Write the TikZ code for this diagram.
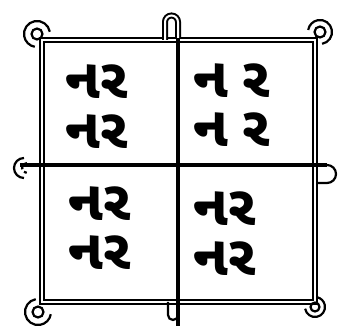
\documentclass[tikz,border=0pt]{standalone}
\usepackage{fontspec}
\newfontfamily\gujfont[Script=Gujarati]{Noto Sans Gujarati UI}
\tikzset{
  rim/.style={double, double distance=2pt, line width=2pt},
  bar/.style={line width=4.5pt},
  curl/.style={line width=2.2pt},
  cell/.style={font=\gujfont\bfseries\fontsize{56}{56}\selectfont, inner sep=0pt, text height=24pt, text depth=2pt}
}
\begin{document}
\begin{tikzpicture}[x=1pt,y=1pt]
\useasboundingbox (0,0) rectangle (338,328);
% frame
\draw[rim] (42,26) rectangle (315,288);
% cross bars
\draw[bar] (178,2) -- (178,296);
\draw[bar] (20,163) -- (327,163);
% hooks on the bars
\draw[rim] (165,288) -- (165,306) arc[start angle=180, end angle=0, radius=6.5] -- (178,290);
\draw[curl] (168,26) -- (168,13) arc[start angle=180, end angle=360, radius=5] -- (178,13);
\draw[curl] (327,163) arc[start angle=90, end angle=-90, radius=9] -- (318,145);
\draw[curl] (24,170) arc[start angle=90, end angle=270, radius=10];
\draw[curl, dashed] (27,165) arc[start angle=90, end angle=270, radius=5];
% corner curls
\draw[curl] (37,294) ++(10:13) arc[start angle=10, end angle=260, radius=13];
\draw[curl] (37,294) circle[radius=5.5];
\draw[curl] (320,296) ++(-80:12) arc[start angle=-80, end angle=170, radius=12];
\draw[curl] (320,296) circle[radius=5.5];
\draw[curl] (38,16) ++(100:13) arc[start angle=100, end angle=350, radius=13];
\draw[curl] (38,16) circle[radius=5.5];
\draw[curl] (315,21) ++(-170:10) arc[start angle=-170, end angle=80, radius=10];
\draw[curl] (315,21) circle[radius=4.5];
% letters
\node[cell] (tl1) at (97,240) {નર};
\node[cell] (tl2) at (97,190) {નર};
\node[cell] (tr1) at (232,241) {ન\hspace{14pt}ર};
\node[cell] (tr2) at (232,192) {ન\hspace{14pt}ર};
\node[cell] (bl1) at (100,118) {નર};
\node[cell] (bl2) at (100,69) {નર};
\node[cell] (br1) at (225,113) {નર};
\node[cell] (br2) at (225,63) {નર};
\end{tikzpicture}
\end{document}
